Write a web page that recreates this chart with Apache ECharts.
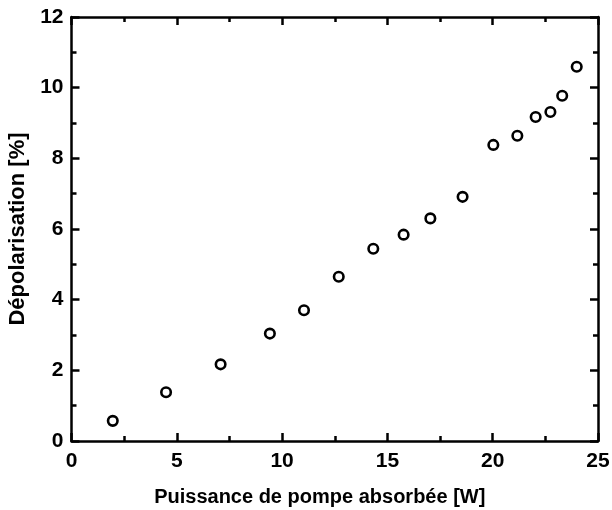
<!DOCTYPE html>
<html>
<head>
<meta charset="utf-8">
<script src="https://cdn.jsdelivr.net/npm/echarts@6/dist/echarts.min.js"></script>
<style>html,body{margin:0;padding:0;background:#fff}#c{width:612px;height:510px}</style>
</head>
<body>
<div id="c"></div>
<script>
var power = [1.96, 4.49, 7.08, 9.42, 11.04, 12.69, 14.33, 15.77, 17.04, 18.57, 20.03, 21.17, 22.04, 22.74, 23.30, 23.99];
var depol = [0.57, 1.38, 2.17, 3.04, 3.70, 4.65, 5.44, 5.84, 6.30, 6.91, 8.38, 8.64, 9.17, 9.31, 9.77, 10.59];
var xTitle = 'Puissance de pompe absorbée [W]';
var yTitle = 'Dépolarisation [%]';

var pts = power.map(function (p, i) { return [p, depol[i]]; });
var font = 'Liberation Sans, Arial, sans-serif';
var lineStyle = { color: '#000', width: 2.5 };
function axisBase(extra) {
  var a = {
    axisLine: { show: true, onZero: false, lineStyle: lineStyle },
    axisTick: { show: true, inside: true, length: 8, lineStyle: lineStyle },
    minorTick: { show: true, splitNumber: 2, length: 5, lineStyle: lineStyle },
    splitLine: { show: false },
    axisLabel: { show: false }
  };
  for (var k in extra) a[k] = extra[k];
  return a;
}
var chart = echarts.init(document.getElementById('c'), null, { renderer: 'canvas' });
chart.setOption({
  animation: false,
  backgroundColor: '#fff',
  grid: { left: 71.5, right: 14, top: 17, bottom: 69, containLabel: false, outerBoundsMode: 'none' },
  xAxis: [
    axisBase({
      type: 'value', position: 'bottom', min: 0, max: 25, interval: 5,
      axisLabel: { show: true, color: '#000', fontFamily: font, fontWeight: 'bold', fontSize: 21, margin: 10 },
      name: xTitle, nameLocation: 'middle', nameGap: 46,
      nameTextStyle: { color: '#000', fontFamily: font, fontWeight: 'bold', fontSize: 20, padding: [0, 30, 0, 0] }
    }),
    axisBase({ type: 'value', position: 'top', min: 0, max: 25, interval: 5 })
  ],
  yAxis: [
    axisBase({
      type: 'value', position: 'left', min: 0, max: 12, interval: 2,
      axisLabel: { show: true, color: '#000', fontFamily: font, fontWeight: 'bold', fontSize: 21, margin: 8 },
      name: yTitle, nameLocation: 'middle', nameGap: 39, nameRotate: 90,
      nameTextStyle: { color: '#000', fontFamily: font, fontWeight: 'bold', fontSize: 22 }
    }),
    axisBase({ type: 'value', position: 'right', min: 0, max: 12, interval: 2 })
  ],
  series: [{
    type: 'scatter',
    xAxisIndex: 0, yAxisIndex: 0,
    data: pts,
    symbol: 'circle',
    symbolSize: 9.5,
    itemStyle: { color: '#fff', borderColor: '#000', borderWidth: 2.6, opacity: 1 }
  }]
});
</script>
</body>
</html>
